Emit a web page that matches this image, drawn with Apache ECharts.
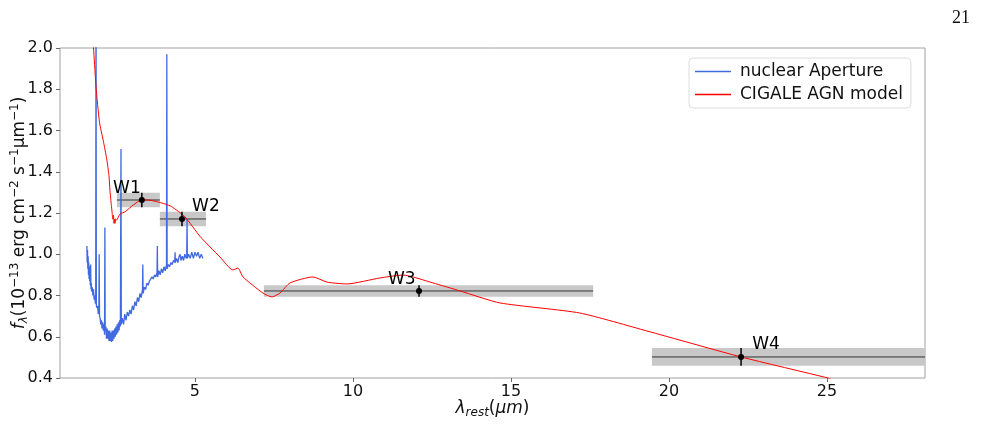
<!DOCTYPE html>
<html>
<head>
<meta charset="utf-8">
<script src="https://cdn.jsdelivr.net/npm/echarts@6/dist/echarts.min.js"></script>
<style>
html,body{margin:0;padding:0;background:#fff;}
#chart{width:981px;height:425px;}
</style>
</head>
<body>
<div id="chart"></div>
<script>
// spectrum of the nuclear aperture (micron, 1e-13 erg/cm2/s/um)
var nuclearSpec = [
  [1.58,1.04],[1.59,0.96],[1.60,1.02],[1.61,0.93],[1.62,0.99],[1.63,0.90],[1.64,0.96],[1.65,0.88],
  [1.66,0.94],[1.67,0.87],[1.68,0.91],[1.69,0.85],[1.70,0.95],[1.71,0.83],[1.72,0.86],[1.73,0.82],
  [1.75,0.84],[1.77,0.80],[1.79,0.83],[1.81,0.78],[1.83,0.80],[1.85,0.76],[1.86,0.77],[1.87,2.40],
  [1.88,0.75],[1.90,0.74],[1.92,0.75],[1.94,0.71],[1.96,0.73],[1.97,1.00],[1.98,0.70],[2.00,0.69],
  [2.02,0.66],[2.04,0.68],[2.06,0.64],[2.08,0.67],[2.10,0.63],[2.12,0.66],[2.14,0.61],[2.15,1.13],
  [2.16,0.63],[2.18,0.65],[2.20,0.59],[2.22,0.64],[2.24,0.59],[2.26,0.63],[2.28,0.58],[2.30,0.63],
  [2.32,0.58],[2.34,0.62],[2.36,0.575],[2.38,0.63],[2.40,0.58],[2.42,0.63],[2.44,0.59],[2.46,0.64],
  [2.48,0.60],[2.50,0.65],[2.52,0.61],[2.54,0.66],[2.56,0.62],[2.58,0.67],[2.60,0.63],[2.62,0.68],
  [2.64,0.65],[2.66,1.51],[2.67,0.66],[2.70,0.69],[2.74,0.66],[2.78,0.71],[2.82,0.68],[2.86,0.72],
  [2.90,0.70],[2.94,0.73],[2.98,0.71],[3.02,0.75],[3.06,0.73],[3.10,0.77],[3.14,0.75],[3.18,0.79],
  [3.22,0.77],[3.26,0.81],[3.30,0.79],[3.34,0.83],[3.35,0.95],[3.36,0.81],[3.40,0.84],[3.44,0.83],
  [3.48,0.86],[3.52,0.85],[3.56,0.87],[3.60,0.87],[3.64,0.89],[3.68,0.88],[3.72,0.90],[3.76,0.89],
  [3.80,0.91],[3.81,1.04],[3.82,0.89],[3.86,0.92],[3.90,0.90],[3.94,0.93],[3.98,0.91],[4.02,0.94],
  [4.06,0.92],[4.10,0.95],[4.11,1.97],[4.12,0.93],[4.16,0.95],[4.20,0.94],[4.24,0.96],[4.28,0.95],
  [4.32,0.97],[4.36,0.96],[4.37,1.01],[4.38,0.96],[4.42,0.98],[4.46,0.96],[4.50,0.99],[4.53,1.00],
  [4.56,0.97],[4.60,0.99],[4.64,0.97],[4.68,1.00],[4.72,0.98],[4.74,0.99],[4.75,1.17],[4.76,0.98],
  [4.80,1.00],[4.85,0.98],[4.90,1.01],[4.95,0.98],[5.00,1.01],[5.05,0.99],[5.10,1.01],[5.15,0.98],
  [5.20,1.00],[5.25,0.98]
];

// CIGALE AGN model
var cigaleModel = [
  [1.76,2.08],[1.87,1.81],[1.98,1.64],[2.10,1.55],[2.21,1.46],[2.28,1.38],[2.31,1.31],[2.34,1.26],
  [2.36,1.23],[2.38,1.20],[2.40,1.17],[2.42,1.19],[2.44,1.15],[2.46,1.17],[2.47,1.15],[2.49,1.17],
  [2.52,1.166],[2.63,1.195],[2.79,1.206],[3.05,1.239],[3.31,1.263],[3.52,1.263],[3.79,1.255],
  [4.05,1.244],[4.26,1.231],[4.68,1.182],[5.17,1.085],[5.79,0.987],[6.20,0.924],[6.36,0.933],
  [6.52,0.890],[7.15,0.812],[7.44,0.793],[7.69,0.812],[8.01,0.861],[8.73,0.890],[9.18,0.865],
  [9.81,0.856],[10.85,0.885],[11.58,0.899],[12.53,0.861],[13.39,0.822],[14.65,0.764],[17.18,0.715],
  [19.30,0.628],[22.28,0.502],[25.03,0.400],[25.20,0.390]
];

// WISE photometry
var wNames = ['W1', 'W2', 'W3', 'W4'];
var wLambda = [3.32, 4.59, 12.09, 22.28];
var wFlux = [1.263, 1.171, 0.822, 0.502];
var wFluxErr = [0.035, 0.035, 0.028, 0.043];
var wBandLo = [2.53, 3.89, 7.18, 19.46];
var wBandHi = [3.89, 5.35, 17.60, 28.60];
var wLabelX = [2.41, 4.91, 11.11, 22.63];
var wLabelY = [1.278, 1.190, 0.836, 0.521];

var xTicks = [5, 10, 15, 20, 25];

var FONT = 'DejaVu Sans';

var wData = [];
for (var i = 0; i < wNames.length; i++) {
  wData.push([wBandLo[i], wBandHi[i], wFlux[i], wFluxErr[i], wLambda[i], wLabelX[i], wLabelY[i], wNames[i]]);
}

function clipTo(params, shape) {
  return echarts.graphic.clipRectByRect(shape, {
    x: params.coordSys.x, y: params.coordSys.y,
    width: params.coordSys.width, height: params.coordSys.height
  });
}

var chart = echarts.init(document.getElementById('chart'));
var option = {
  animation: false,
  textStyle: {fontFamily: FONT},
  title: {
    text: '21', right: 6, top: 4,
    textStyle: {fontFamily: 'Liberation Serif', fontSize: 18, fontWeight: 'normal', color: '#111'}
  },
  grid: {left: 60, right: 56, top: 48, bottom: 47, show: true, borderColor: '#a0a0a0', borderWidth: 1,
    outerBoundsMode: 'none', containLabel: false},
  legend: {
    left: 689, top: 58, orient: 'vertical',
    padding: [5, 8, 5, 6], itemGap: 6, itemWidth: 36, itemHeight: 1.5,
    borderColor: '#dcdcdc', borderWidth: 1, borderRadius: 4, backgroundColor: '#fff',
    textStyle: {fontFamily: FONT, fontSize: 17, color: '#111', padding: [0, 0, 0, 4]},
    data: [{name: 'nuclear Aperture', icon: 'rect'}, {name: 'CIGALE AGN model', icon: 'rect'}]
  },
  xAxis: {
    type: 'value', min: 0.73, max: 28.1,
    name: '{l|λ}{s|rest}{n|(}{l|μm}{n|)}',
    nameLocation: 'middle', nameGap: 21, nameMoveOverlap: false,
    nameTextStyle: {
      rich: {
        l: {fontFamily: FONT, fontSize: 17, fontStyle: 'italic', color: '#111'},
        n: {fontFamily: FONT, fontSize: 17, color: '#111'},
        s: {fontFamily: FONT, fontSize: 12, fontStyle: 'italic', color: '#111', padding: [8, 0, 0, 0]}
      }
    },
    axisLine: {show: false},
    splitLine: {show: false},
    axisTick: {show: true, length: 4, customValues: xTicks, lineStyle: {color: '#666'}},
    axisLabel: {customValues: xTicks, margin: 6, fontSize: 16, color: '#111', fontFamily: FONT}
  },
  yAxis: {
    type: 'value', min: 0.4, max: 2.0, interval: 0.2,
    name: '{l|f}{s|λ}{n|(10}{u|−13}{n| erg cm}{u|−2}{n| s}{u|−1}{n|μm}{u|−1}{n|)}',
    nameLocation: 'middle', nameRotate: 90, nameGap: 30, nameMoveOverlap: false,
    nameTextStyle: {
      rich: {
        l: {fontFamily: FONT, fontSize: 17, fontStyle: 'italic', color: '#111'},
        n: {fontFamily: FONT, fontSize: 17, color: '#111'},
        s: {fontFamily: FONT, fontSize: 12, fontStyle: 'italic', color: '#111', padding: [8, 0, 0, 0]},
        u: {fontFamily: FONT, fontSize: 12, color: '#111', padding: [0, 0, 9, 0]}
      }
    },
    axisLine: {show: false},
    splitLine: {show: false},
    axisTick: {show: true, length: 4, lineStyle: {color: '#666'}},
    axisLabel: {margin: 7, fontSize: 16, color: '#111', fontFamily: FONT,
      formatter: function (v) { return v.toFixed(1); }}
  },
  series: [
    {
      name: 'bands', type: 'custom', z: 1, silent: true,
      data: wData,
      renderItem: function (params, api) {
        var lo = api.value(0), hi = api.value(1), f = api.value(2), e = api.value(3);
        var p1 = api.coord([lo, f + e]);
        var p2 = api.coord([hi, f - e]);
        var rect = clipTo(params, {x: p1[0], y: p1[1], width: p2[0] - p1[0], height: p2[1] - p1[1]});
        var c = api.coord([lo, f]);
        var c2 = api.coord([Math.min(hi, 28.1), f]);
        return {
          type: 'group',
          children: [
            {type: 'rect', shape: rect, style: {fill: '#c8c8c8'}},
            {type: 'line', shape: {x1: c[0], y1: c[1], x2: c2[0], y2: c2[1]}, style: {stroke: '#333', lineWidth: 1}}
          ]
        };
      }
    },
    {
      name: 'nuclear Aperture', type: 'line', z: 3, data: nuclearSpec,
      showSymbol: false, symbol: 'none', color: '#4169e1',
      lineStyle: {width: 1.3, color: '#4169e1'}
    },
    {
      name: 'CIGALE AGN model', type: 'line', z: 4, data: cigaleModel,
      showSymbol: false, symbol: 'none', color: '#ff0000', smooth: 0.2,
      lineStyle: {width: 1, color: '#ff0000'}
    },
    {
      name: 'points', type: 'custom', z: 5, silent: true,
      data: wData,
      renderItem: function (params, api) {
        var f = api.value(2), e = api.value(3), lam = api.value(4);
        var top = api.coord([lam, f + e]);
        var bot = api.coord([lam, f - e]);
        var c = api.coord([lam, f]);
        var t = api.coord([api.value(5), api.value(6)]);
        return {
          type: 'group',
          children: [
            {type: 'line', shape: {x1: top[0], y1: top[1], x2: bot[0], y2: bot[1]}, style: {stroke: '#000', lineWidth: 1.5}},
            {type: 'circle', shape: {cx: c[0], cy: c[1], r: 3}, style: {fill: '#000'}},
            {type: 'text', x: t[0], y: t[1], style: {
              text: wNames[params.dataIndex], fontFamily: FONT, fontSize: 17, fill: '#000',
              align: 'left', verticalAlign: 'bottom'}}
          ]
        };
      }
    }
  ]
};
chart.setOption(option);
</script>
</body>
</html>
